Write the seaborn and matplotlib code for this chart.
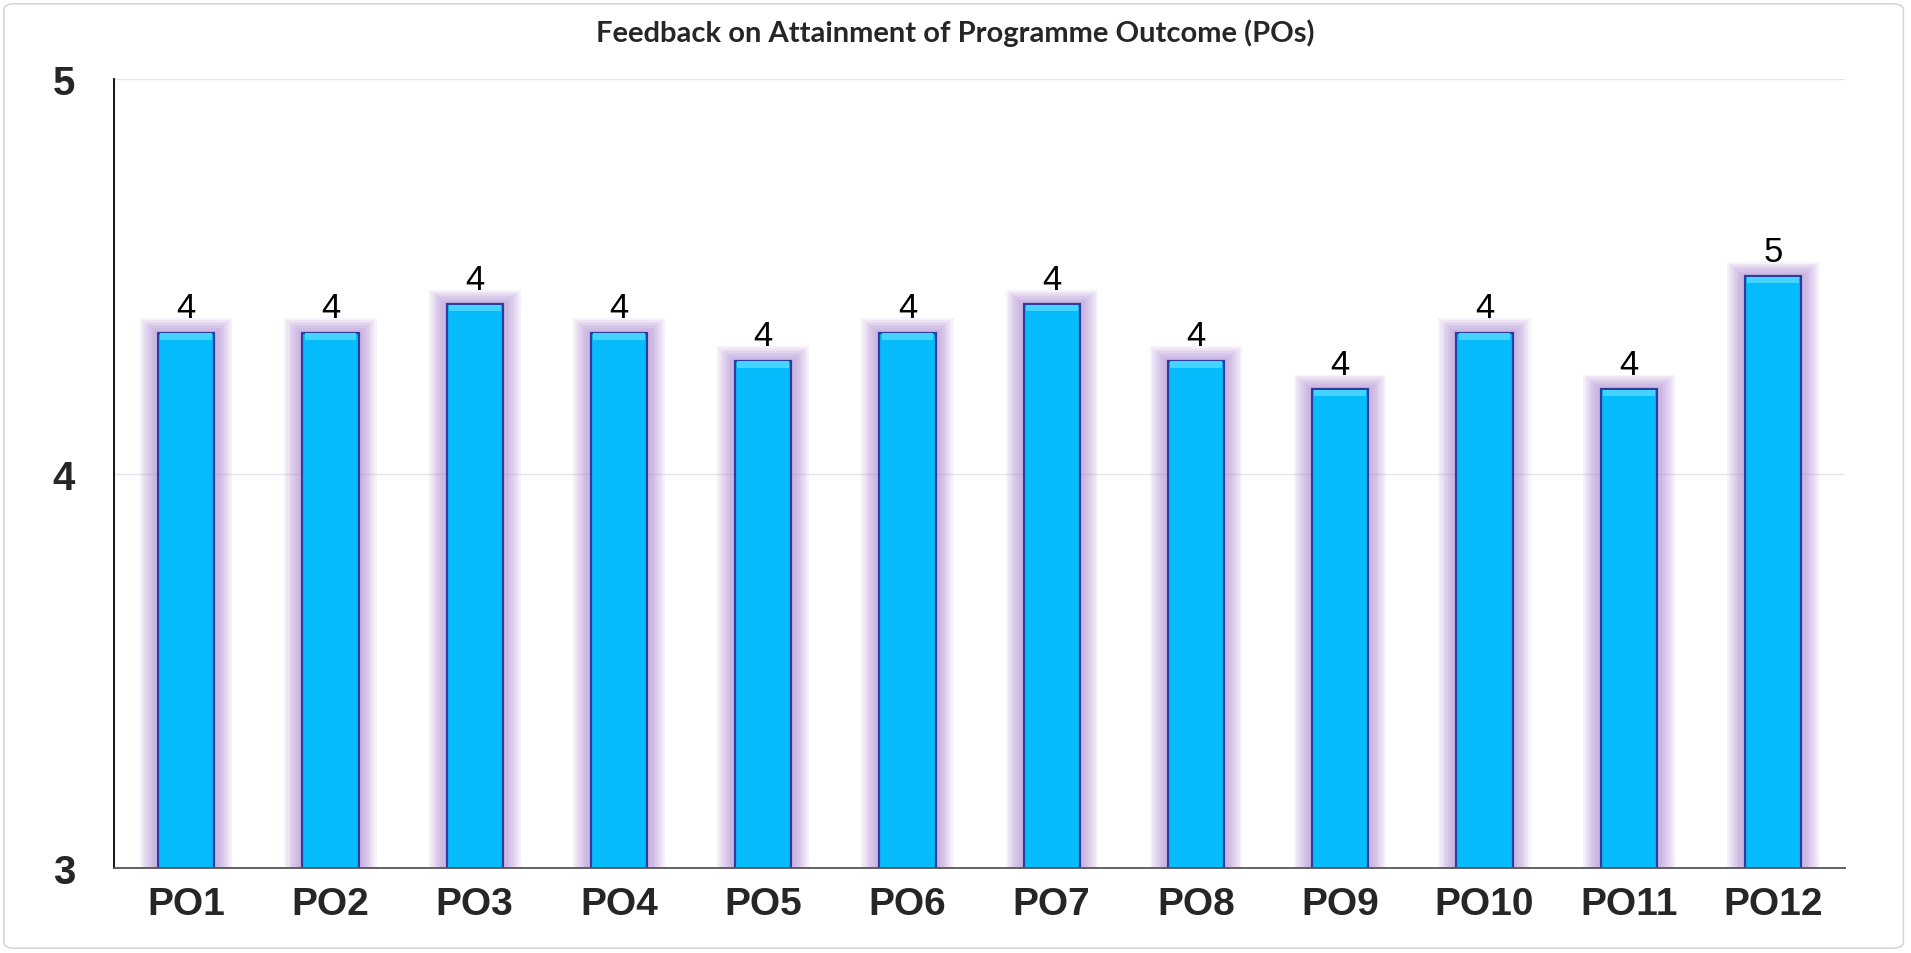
import matplotlib
matplotlib.use("Agg")
import matplotlib.pyplot as plt
import seaborn as sns
import pandas as pd
from matplotlib.patches import FancyBboxPatch

# ------------------------------------------------------------------------
# data (mean feedback score per programme outcome)
# ------------------------------------------------------------------------
outcomes = ["PO1", "PO2", "PO3", "PO4", "PO5", "PO6",
            "PO7", "PO8", "PO9", "PO10", "PO11", "PO12"]
scores = [4.357, 4.357, 4.429, 4.357, 4.286, 4.357,
          4.429, 4.286, 4.214, 4.357, 4.214, 4.5]
y_ticks = [3, 4, 5]
title = "Feedback on Attainment of Programme Outcome (POs)"

df = pd.DataFrame({"outcome": outcomes, "score": scores})

BAR = "#05BBFB"
EDGE = "#2E3C9C"
GLOW = "#B08CD4"
NARROW = ["Liberation Sans Narrow", "Liberation Sans", "DejaVu Sans"]

sns.set_theme(style="white")
plt.rcParams["font.family"] = NARROW

fig = plt.figure(figsize=(19.11, 9.54), dpi=100)
ax = fig.add_axes([0.0597, 0.0891, 0.9058, 0.827])

# soft purple glow behind each bar
glow_layers = [(0.64, 0.036), (0.61, 0.032), (0.58, 0.028), (0.555, 0.024),
               (0.53, 0.020), (0.505, 0.016), (0.48, 0.012), (0.455, 0.008)]
for w, extra in glow_layers:
    sns.barplot(data=df.assign(score=df["score"] + extra), x="outcome", y="score",
                color=GLOW, alpha=0.11, width=w, linewidth=0, ax=ax,
                saturation=1, errorbar=None)

# main bars
sns.barplot(data=df, x="outcome", y="score", color=BAR, width=0.39,
            edgecolor=EDGE, linewidth=1.6, ax=ax, saturation=1, errorbar=None)
main = ax.containers[-1]

# light bevel strip on bar tops
for bar, v in zip(main, scores):
    ax.bar(bar.get_x() + bar.get_width() / 2, 0.016, bottom=v - 0.018,
           width=bar.get_width() * 0.92, color="#45D4FF", linewidth=0, zorder=3)

labels = [str(int(v + 0.5)) for v in scores]
ax.bar_label(main, labels=labels, padding=6, fontsize=25, color="black",
             family=NARROW)

ax.set_ylim(3, 5)
ax.set_xlim(-0.5, len(outcomes) - 0.5)
ax.set_yticks(y_ticks)
ax.yaxis.grid(True, color="#E4E4E4", linewidth=1)
ax.set_axisbelow(True)
ax.set_xlabel("")
ax.set_ylabel("")

for s in ["top", "right"]:
    ax.spines[s].set_visible(False)
ax.spines["left"].set_color("black")
ax.spines["left"].set_linewidth(1.3)
ax.spines["bottom"].set_color("#555555")
ax.spines["bottom"].set_linewidth(1.3)

ax.tick_params(axis="y", length=0, pad=28, labelsize=29)
ax.tick_params(axis="x", length=0, pad=13, labelsize=28)
for t in ax.get_yticklabels() + ax.get_xticklabels():
    t.set_fontweight("bold")

fig.text(0.5, 0.965, title, ha="center", va="center", fontsize=21,
         fontweight="bold", family=["Lato", "Open Sans", "DejaVu Sans"])

frame = FancyBboxPatch((0.002, 0.005), 0.994, 0.99, boxstyle="round,pad=0,rounding_size=0.006",
                       transform=fig.transFigure, facecolor="none",
                       edgecolor="#D6D6D6", linewidth=1.2)
fig.patches.append(frame)

fig.savefig("out.png", dpi=100)
